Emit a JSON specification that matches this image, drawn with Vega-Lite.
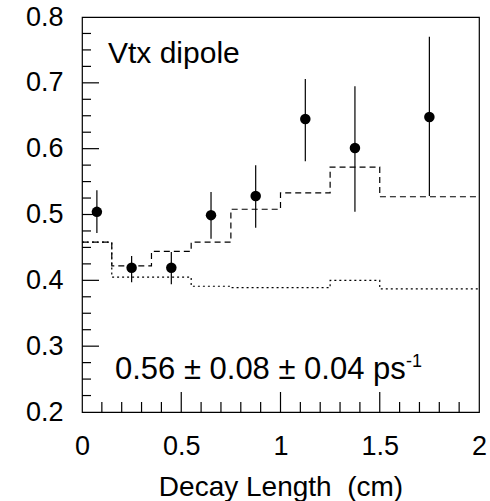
{
  "$schema": "https://vega.github.io/schema/vega-lite/v6.json",
  "width": 397,
  "height": 395,
  "autosize": "none",
  "padding": {"left": 82, "top": 17, "right": 11, "bottom": 89},
  "background": "white",
  "config": {
    "font": "Liberation Sans",
    "view": {"stroke": "black", "strokeWidth": 1.2},
    "axis": {"grid": false, "labelFont": "Liberation Sans", "titleFont": "Liberation Sans", "labelColor": "black", "titleColor": "black"}
  },
  "layer": [
    {
      "data": {"values": [
        {"x": 0, "v": 0.458}, {"x": 0.15, "v": 0.422}, {"x": 0.35, "v": 0.444}, {"x": 0.55, "v": 0.458},
        {"x": 0.75, "v": 0.508}, {"x": 1.0, "v": 0.533}, {"x": 1.25, "v": 0.572}, {"x": 1.5, "v": 0.527}, {"x": 2.0, "v": 0.527}
      ]},
      "mark": {"type": "line", "interpolate": "step-after", "color": "black", "strokeWidth": 1.2, "strokeDash": [6, 4]},
      "encoding": {
        "x": {"field": "x", "type": "quantitative", "scale": {"domain": [0, 2], "nice": false, "zero": false},
          "axis": {"orient": "bottom", "values": [0, 0.5, 1, 1.5, 2], "format": "~g", "ticks": false, "labelPadding": 21, "labelFontSize": 27, "labelFlush": false, "labelOverlap": false, "domain": false, "title": "Decay Length\u00a0 (cm)", "titleFontSize": 28, "titleFontWeight": "normal", "titlePadding": 14}},
        "y": {"field": "v", "type": "quantitative", "scale": {"domain": [0.2, 0.8], "nice": false, "zero": false},
          "axis": {"orient": "left", "values": [0.2, 0.3, 0.4, 0.5, 0.6, 0.7, 0.8], "format": ".1f", "ticks": false, "labelPadding": 19, "labelFontSize": 27, "labelFlush": false, "labelOverlap": false, "domain": false, "title": null}}
      }
    },
    {
      "data": {"values": [
        {"x": 0, "v": 0.458}, {"x": 0.15, "v": 0.405}, {"x": 0.55, "v": 0.391}, {"x": 0.75, "v": 0.389},
        {"x": 1.25, "v": 0.40}, {"x": 1.5, "v": 0.387}, {"x": 2.0, "v": 0.387}
      ]},
      "mark": {"type": "line", "interpolate": "step-after", "color": "black", "strokeWidth": 1.2, "strokeDash": [2, 3]},
      "encoding": {
        "x": {"field": "x", "type": "quantitative"},
        "y": {"field": "v", "type": "quantitative"}
      }
    },
    {
      "data": {"values": [
        {"t": 0.1}, {"t": 0.2}, {"t": 0.3}, {"t": 0.4}, {"t": 0.6}, {"t": 0.7}, {"t": 0.8}, {"t": 0.9},
        {"t": 1.1}, {"t": 1.2}, {"t": 1.3}, {"t": 1.4}, {"t": 1.6}, {"t": 1.7}, {"t": 1.8}, {"t": 1.9}
      ]},
      "mark": {"type": "rule", "color": "black", "strokeWidth": 1.2, "y2Offset": -10},
      "encoding": {
        "x": {"field": "t", "type": "quantitative"},
        "y": {"datum": 0.2, "type": "quantitative"},
        "y2": {"datum": 0.2}
      }
    },
    {
      "data": {"values": [{"t": 0.5}, {"t": 1.0}, {"t": 1.5}]},
      "mark": {"type": "rule", "color": "black", "strokeWidth": 1.2, "y2Offset": -20},
      "encoding": {
        "x": {"field": "t", "type": "quantitative"},
        "y": {"datum": 0.2, "type": "quantitative"},
        "y2": {"datum": 0.2}
      }
    },
    {
      "data": {"values": [
        {"t": 0.225}, {"t": 0.25}, {"t": 0.275}, {"t": 0.325}, {"t": 0.35}, {"t": 0.375},
        {"t": 0.425}, {"t": 0.45}, {"t": 0.475}, {"t": 0.525}, {"t": 0.55}, {"t": 0.575},
        {"t": 0.625}, {"t": 0.65}, {"t": 0.675}, {"t": 0.725}, {"t": 0.75}, {"t": 0.775}
      ]},
      "mark": {"type": "rule", "color": "black", "strokeWidth": 1.2, "x2Offset": 9},
      "encoding": {
        "y": {"field": "t", "type": "quantitative"},
        "x": {"datum": 0, "type": "quantitative"},
        "x2": {"datum": 0}
      }
    },
    {
      "data": {"values": [{"t": 0.3}, {"t": 0.4}, {"t": 0.5}, {"t": 0.6}, {"t": 0.7}]},
      "mark": {"type": "rule", "color": "black", "strokeWidth": 1.2, "x2Offset": 17},
      "encoding": {
        "y": {"field": "t", "type": "quantitative"},
        "x": {"datum": 0, "type": "quantitative"},
        "x2": {"datum": 0}
      }
    },
    {
      "data": {"name": "pts", "values": [
        {"x": 0.075, "y": 0.504, "lo": 0.472, "hi": 0.537},
        {"x": 0.25, "y": 0.419, "lo": 0.397, "hi": 0.437},
        {"x": 0.45, "y": 0.419, "lo": 0.394, "hi": 0.443},
        {"x": 0.65, "y": 0.499, "lo": 0.463, "hi": 0.534},
        {"x": 0.875, "y": 0.528, "lo": 0.48, "hi": 0.575},
        {"x": 1.125, "y": 0.645, "lo": 0.581, "hi": 0.706},
        {"x": 1.375, "y": 0.601, "lo": 0.504, "hi": 0.695},
        {"x": 1.75, "y": 0.648, "lo": 0.528, "hi": 0.770}
      ]},
      "layer": [
        {
          "mark": {"type": "rule", "color": "black", "strokeWidth": 1.2},
          "encoding": {
            "x": {"field": "x", "type": "quantitative"},
            "y": {"field": "lo", "type": "quantitative"},
            "y2": {"field": "hi"}
          }
        },
        {
          "mark": {"type": "point", "shape": "circle", "filled": true, "color": "black", "opacity": 1, "size": 110},
          "encoding": {
            "x": {"field": "x", "type": "quantitative"},
            "y": {"field": "y", "type": "quantitative"}
          }
        }
      ]
    },
    {
      "data": {"values": [{"t": "Vtx dipole"}]},
      "mark": {"type": "text", "align": "left", "baseline": "alphabetic", "fontSize": 30, "color": "black"},
      "encoding": {"text": {"field": "t"}, "x": {"datum": 0.131, "type": "quantitative"}, "y": {"datum": 0.730, "type": "quantitative"}}
    },
    {
      "data": {"values": [{"t": "0.56 ± 0.08 ± 0.04 ps"}]},
      "mark": {"type": "text", "align": "left", "baseline": "alphabetic", "fontSize": 31, "color": "black"},
      "encoding": {"text": {"field": "t"}, "x": {"datum": 0.166, "type": "quantitative"}, "y": {"datum": 0.25, "type": "quantitative"}}
    },
    {
      "data": {"values": [{"t": "-1"}]},
      "mark": {"type": "text", "align": "left", "baseline": "alphabetic", "fontSize": 18, "color": "black"},
      "encoding": {"text": {"field": "t"}, "x": {"datum": 1.632, "type": "quantitative"}, "y": {"datum": 0.268, "type": "quantitative"}}
    }
  ]
}
